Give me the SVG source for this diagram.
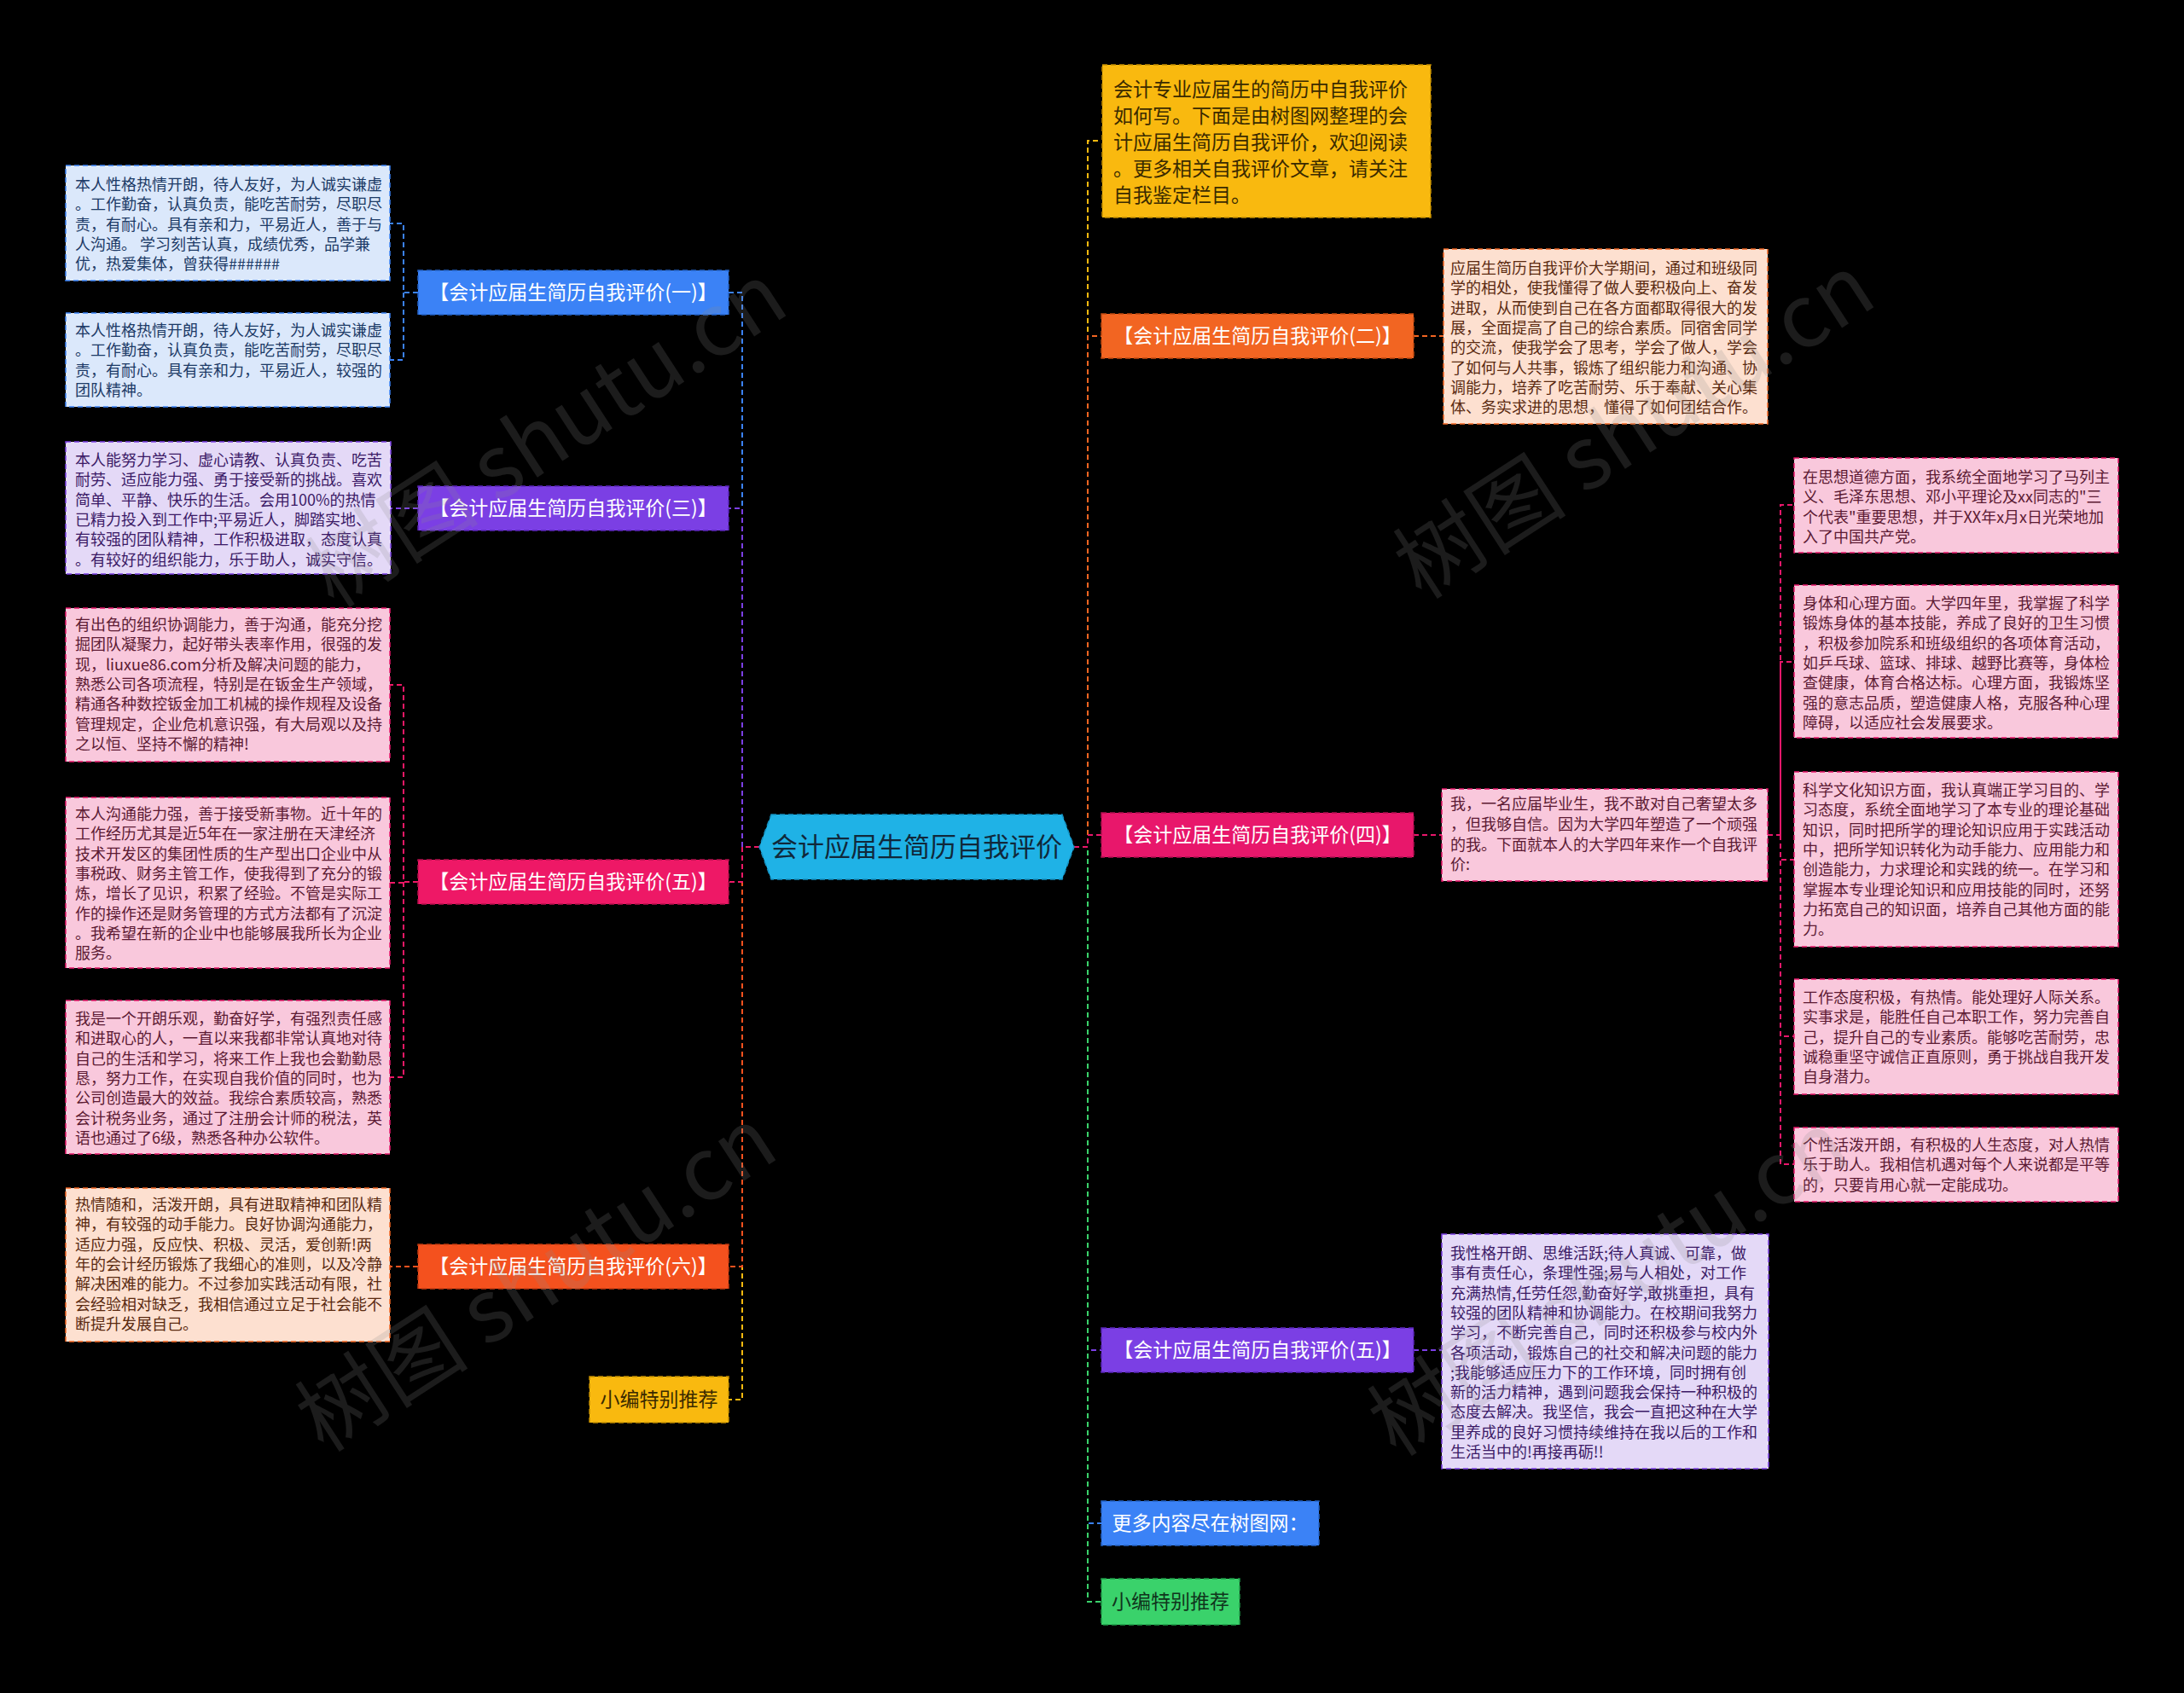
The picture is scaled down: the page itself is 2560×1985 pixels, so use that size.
<svg xmlns="http://www.w3.org/2000/svg" width="2560" height="1985" viewBox="0 0 2560 1985">
<style>
text{font-family:"Noto Sans CJK SC","Noto Sans",sans-serif;}
.wm{font-size:102px;fill:#8a8a8a;fill-opacity:0.2;}
.c{fill:none;stroke-width:2;stroke-dasharray:6 4;}
.nd{stroke-width:1.5;stroke-dasharray:6 4;}
.nt{font-size:23px;fill:#ffffff;text-anchor:middle;}
.lt{font-size:18px;}
.blue{fill:#dbe8fb;stroke:#3b82f6;}
.lav{fill:#e4d9f7;stroke:#7b3fe4;}
.pink{fill:#f9c8dc;stroke:#e8176b;}
.peach{fill:#fde0d0;stroke:#f26522;}
.tb{fill:#1c3a66;} .tl{fill:#3b1a66;} .tp{fill:#5c1a33;} .tc{fill:#5a2a10;}
</style>
<rect x="0" y="0" width="2560" height="1985" fill="#000000"/>

<g id="connectors">
<path class="c" stroke="#3b82f6" d="M890,993 H870 V343 H854"/>
<path class="c" stroke="#7b3fe4" d="M890,993 H870 V596 H854"/>
<path class="c" stroke="#f9b90f" d="M890,993 H870 V1641 H854"/>
<path class="c" stroke="#f4511e" d="M890,993 H870 V1485 H854"/>
<path class="c" stroke="#ee1866" d="M890,993 H870 V1034 H854"/>
<path class="c" stroke="#f9b90f" d="M1259,993 H1275 V165 H1291"/>
<path class="c" stroke="#f26522" d="M1259,993 H1275 V394 H1291"/>
<path class="c" stroke="#7b3fe4" d="M1259,993 H1275 V1583 H1291"/>
<path class="c" stroke="#3b82f6" d="M1259,993 H1275 V1786 H1291"/>
<path class="c" stroke="#3ad26b" d="M1259,993 H1275 V1878 H1291"/>
<path class="c" stroke="#e8176b" d="M1259,993 H1275 V979 H1291"/>
<path class="c" stroke="#3b82f6" d="M490,343 H473 V262 H457 M473,343 V422 H457"/>
<path class="c" stroke="#7b3fe4" d="M490,596 H457"/>
<path class="c" stroke="#ee1866" d="M490,1034 H473 V803 H457 M473,1034 V1263 H457 M473,1035 H457"/>
<path class="c" stroke="#f4511e" d="M490,1485 H457"/>
<path class="c" stroke="#f26522" d="M1657,394 H1692"/>
<path class="c" stroke="#e8176b" d="M1657,979 H1690"/>
<path class="c" stroke="#e8176b" d="M2072,979 H2087 V592 H2103 M2087,979 V776 H2103 M2087,979 V1008 H2103 M2087,979 V1215 H2103 M2087,979 V1365 H2103"/>
<path class="c" stroke="#7b3fe4" d="M1657,1583 H1690"/>
</g>

<g id="center">
<path d="M904,955 L1245,955 L1259,993 L1245,1031 L904,1031 L890,993 Z" fill="#1fb2e6" stroke="#1490c0" stroke-width="1.5" stroke-dasharray="6 4"/>
<text x="1074.5" y="1004" text-anchor="middle" font-size="31" fill="#10283a">会计应届生简历自我评价</text>
</g>

<g id="n1">
<rect class="nd" x="490" y="317" width="364" height="52" fill="#3b82f6" stroke="#2563c8"/>
<text class="nt" x="672" y="351">【会计应届生简历自我评价(一)】</text>
</g>
<g id="n3">
<rect class="nd" x="490" y="570" width="364" height="52" fill="#7b3fe4" stroke="#5a24b8"/>
<text class="nt" x="672" y="604">【会计应届生简历自我评价(三)】</text>
</g>
<g id="n5l">
<rect class="nd" x="490" y="1008" width="364" height="52" fill="#ee1866" stroke="#b80f4c"/>
<text class="nt" x="672" y="1042">【会计应届生简历自我评价(五)】</text>
</g>
<g id="n6">
<rect class="nd" x="490" y="1459" width="364" height="52" fill="#f4511e" stroke="#c23a10"/>
<text class="nt" x="672" y="1493">【会计应届生简历自我评价(六)】</text>
</g>
<g id="nxl">
<rect class="nd" x="691" y="1614" width="163" height="54" fill="#f9b90f" stroke="#c48e00"/>
<text class="nt" x="772.5" y="1649" style="fill:#3a2a00">小编特别推荐</text>
</g>

<g id="intro">
<rect class="nd" x="1292" y="76" width="385" height="179" fill="#f9b90f" stroke="#c48e00"/>
<text font-size="23" fill="#3a2a00">
<tspan x="1305" y="113">会计专业应届生的简历中自我评价</tspan>
<tspan x="1305" y="144">如何写。下面是由树图网整理的会</tspan>
<tspan x="1305" y="175">计应届生简历自我评价，欢迎阅读</tspan>
<tspan x="1305" y="206">。更多相关自我评价文章，请关注</tspan>
<tspan x="1305" y="237">自我鉴定栏目。</tspan>
</text>
</g>
<g id="n2">
<rect class="nd" x="1291" y="368" width="366" height="52" fill="#f26522" stroke="#c04a10"/>
<text class="nt" x="1474" y="402">【会计应届生简历自我评价(二)】</text>
</g>
<g id="n4">
<rect class="nd" x="1291" y="953" width="366" height="52" fill="#e8176b" stroke="#b00f50"/>
<text class="nt" x="1474" y="987">【会计应届生简历自我评价(四)】</text>
</g>
<g id="n5r">
<rect class="nd" x="1291" y="1557" width="366" height="52" fill="#7b3fe4" stroke="#5a24b8"/>
<text class="nt" x="1474" y="1591">【会计应届生简历自我评价(五)】</text>
</g>
<g id="nmore">
<rect class="nd" x="1291" y="1760" width="255" height="52" fill="#3b82f6" stroke="#2563c8"/>
<text class="nt" x="1418.5" y="1794">更多内容尽在树图网：</text>
</g>
<g id="nxr">
<rect class="nd" x="1291" y="1851" width="162" height="54" fill="#3ad26b" stroke="#1f9e4a"/>
<text class="nt" x="1372" y="1886" style="fill:#10351c">小编特别推荐</text>
</g>

<g id="l1a">
<rect class="nd blue" x="77" y="194" width="380" height="135"/>
<text class="lt tb"><tspan x="88" y="223">本人性格热情开朗，待人友好，为人诚实谦虚</tspan><tspan x="88" y="246.3">。工作勤奋，认真负责，能吃苦耐劳，尽职尽</tspan><tspan x="88" y="269.6">责，有耐心。具有亲和力，平易近人，善于与</tspan><tspan x="88" y="292.9">人沟通。  学习刻苦认真，成绩优秀，品学兼</tspan><tspan x="88" y="316.2">优，热爱集体，曾获得######</tspan></text>
</g>
<g id="l1b">
<rect class="nd blue" x="77" y="367" width="380" height="110"/>
<text class="lt tb"><tspan x="88" y="394">本人性格热情开朗，待人友好，为人诚实谦虚</tspan><tspan x="88" y="417.3">。工作勤奋，认真负责，能吃苦耐劳，尽职尽</tspan><tspan x="88" y="440.6">责，有耐心。具有亲和力，平易近人，较强的</tspan><tspan x="88" y="463.9">团队精神。</tspan></text>
</g>
<g id="l3">
<rect class="nd lav" x="77" y="518" width="381" height="155"/>
<text class="lt tl"><tspan x="88" y="546">本人能努力学习、虚心请教、认真负责、吃苦</tspan><tspan x="88" y="569.3">耐劳、适应能力强、勇于接受新的挑战。喜欢</tspan><tspan x="88" y="592.6">简单、平静、快乐的生活。会用100%的热情</tspan><tspan x="88" y="615.9">已精力投入到工作中;平易近人，脚踏实地、</tspan><tspan x="88" y="639.2">有较强的团队精神，工作积极进取，态度认真</tspan><tspan x="88" y="662.5">。有较好的组织能力，乐于助人，诚实守信。</tspan></text>
</g>
<g id="l5a">
<rect class="nd pink" x="77" y="713" width="380" height="180"/>
<text class="lt tp"><tspan x="88" y="739">有出色的组织协调能力，善于沟通，能充分挖</tspan><tspan x="88" y="762.3">掘团队凝聚力，起好带头表率作用，很强的发</tspan><tspan x="88" y="785.6">现，liuxue86.com分析及解决问题的能力，</tspan><tspan x="88" y="808.9">熟悉公司各项流程，特别是在钣金生产领域，</tspan><tspan x="88" y="832.2">精通各种数控钣金加工机械的操作规程及设备</tspan><tspan x="88" y="855.5">管理规定，企业危机意识强，有大局观以及持</tspan><tspan x="88" y="878.8">之以恒、坚持不懈的精神!</tspan></text>
</g>
<g id="l5b">
<rect class="nd pink" x="77" y="935" width="380" height="200"/>
<text class="lt tp"><tspan x="88" y="961">本人沟通能力强，善于接受新事物。近十年的</tspan><tspan x="88" y="984.3">工作经历尤其是近5年在一家注册在天津经济</tspan><tspan x="88" y="1007.6">技术开发区的集团性质的生产型出口企业中从</tspan><tspan x="88" y="1030.9">事税政、财务主管工作，使我得到了充分的锻</tspan><tspan x="88" y="1054.2">炼，增长了见识，积累了经验。不管是实际工</tspan><tspan x="88" y="1077.5">作的操作还是财务管理的方式方法都有了沉淀</tspan><tspan x="88" y="1100.8">。我希望在新的企业中也能够展我所长为企业</tspan><tspan x="88" y="1124.1">服务。</tspan></text>
</g>
<g id="l5c">
<rect class="nd pink" x="77" y="1173" width="380" height="180"/>
<text class="lt tp"><tspan x="88" y="1201">我是一个开朗乐观，勤奋好学，有强烈责任感</tspan><tspan x="88" y="1224.3">和进取心的人，一直以来我都非常认真地对待</tspan><tspan x="88" y="1247.6">自己的生活和学习，将来工作上我也会勤勤恳</tspan><tspan x="88" y="1270.9">恳，努力工作，在实现自我价值的同时，也为</tspan><tspan x="88" y="1294.2">公司创造最大的效益。我综合素质较高，熟悉</tspan><tspan x="88" y="1317.5">会计税务业务，通过了注册会计师的税法，英</tspan><tspan x="88" y="1340.8">语也通过了6级，熟悉各种办公软件。</tspan></text>
</g>
<g id="l6">
<rect class="nd peach" x="77" y="1393" width="380" height="180"/>
<text class="lt tc"><tspan x="88" y="1419">热情随和，活泼开朗，具有进取精神和团队精</tspan><tspan x="88" y="1442.3">神，有较强的动手能力。良好协调沟通能力，</tspan><tspan x="88" y="1465.6">适应力强，反应快、积极、灵活，爱创新!两</tspan><tspan x="88" y="1488.9">年的会计经历锻炼了我细心的准则，以及冷静</tspan><tspan x="88" y="1512.2">解决困难的能力。不过参加实践活动有限，社</tspan><tspan x="88" y="1535.5">会经验相对缺乏，我相信通过立足于社会能不</tspan><tspan x="88" y="1558.8">断提升发展自己。</tspan></text>
</g>

<g id="r2">
<rect class="nd peach" x="1692" y="292" width="380" height="205"/>
<text class="lt tc"><tspan x="1700" y="321">应届生简历自我评价大学期间，通过和班级同</tspan><tspan x="1700" y="344.3">学的相处，使我懂得了做人要积极向上、奋发</tspan><tspan x="1700" y="367.6">进取，从而使到自己在各方面都取得很大的发</tspan><tspan x="1700" y="390.9">展，全面提高了自己的综合素质。同宿舍同学</tspan><tspan x="1700" y="414.2">的交流，使我学会了思考，学会了做人，学会</tspan><tspan x="1700" y="437.5">了如何与人共事，锻炼了组织能力和沟通、协</tspan><tspan x="1700" y="460.8">调能力，培养了吃苦耐劳、乐于奉献、关心集</tspan><tspan x="1700" y="484.1">体、务实求进的思想，懂得了如何团结合作。</tspan></text>
</g>
<g id="r4">
<rect class="nd pink" x="1690" y="925" width="382" height="108"/>
<text class="lt tp"><tspan x="1700" y="949">我，一名应届毕业生，我不敢对自己奢望太多</tspan><tspan x="1700" y="972.8">，但我够自信。因为大学四年塑造了一个顽强</tspan><tspan x="1700" y="996.6">的我。下面就本人的大学四年来作一个自我评</tspan><tspan x="1700" y="1020.4">价:</tspan></text>
</g>
<g id="r4a">
<rect class="nd pink" x="2103" y="537" width="380" height="111"/>
<text class="lt tp"><tspan x="2113" y="566">在思想道德方面，我系统全面地学习了马列主</tspan><tspan x="2113" y="589.3">义、毛泽东思想、邓小平理论及xx同志的"三</tspan><tspan x="2113" y="612.6">个代表"重要思想，并于XX年x月x日光荣地加</tspan><tspan x="2113" y="635.9">入了中国共产党。</tspan></text>
</g>
<g id="r4b">
<rect class="nd pink" x="2103" y="686" width="380" height="179"/>
<text class="lt tp"><tspan x="2113" y="714">身体和心理方面。大学四年里，我掌握了科学</tspan><tspan x="2113" y="737.3">锻炼身体的基本技能，养成了良好的卫生习惯</tspan><tspan x="2113" y="760.6">，积极参加院系和班级组织的各项体育活动，</tspan><tspan x="2113" y="783.9">如乒乓球、篮球、排球、越野比赛等，身体检</tspan><tspan x="2113" y="807.2">查健康，体育合格达标。心理方面，我锻炼坚</tspan><tspan x="2113" y="830.5">强的意志品质，塑造健康人格，克服各种心理</tspan><tspan x="2113" y="853.8">障碍，以适应社会发展要求。</tspan></text>
</g>
<g id="r4c">
<rect class="nd pink" x="2103" y="905" width="380" height="205"/>
<text class="lt tp"><tspan x="2113" y="933">科学文化知识方面，我认真端正学习目的、学</tspan><tspan x="2113" y="956.3">习态度，系统全面地学习了本专业的理论基础</tspan><tspan x="2113" y="979.6">知识，同时把所学的理论知识应用于实践活动</tspan><tspan x="2113" y="1002.9">中，把所学知识转化为动手能力、应用能力和</tspan><tspan x="2113" y="1026.2">创造能力，力求理论和实践的统一。在学习和</tspan><tspan x="2113" y="1049.5">掌握本专业理论知识和应用技能的同时，还努</tspan><tspan x="2113" y="1072.8">力拓宽自己的知识面，培养自己其他方面的能</tspan><tspan x="2113" y="1096.1">力。</tspan></text>
</g>
<g id="r4d">
<rect class="nd pink" x="2103" y="1148" width="380" height="135"/>
<text class="lt tp"><tspan x="2113" y="1176">工作态度积极，有热情。能处理好人际关系。</tspan><tspan x="2113" y="1199.3">实事求是，能胜任自己本职工作，努力完善自</tspan><tspan x="2113" y="1222.6">己，提升自己的专业素质。能够吃苦耐劳，忠</tspan><tspan x="2113" y="1245.9">诚稳重坚守诚信正直原则，勇于挑战自我开发</tspan><tspan x="2113" y="1269.2">自身潜力。</tspan></text>
</g>
<g id="r4e">
<rect class="nd pink" x="2103" y="1322" width="380" height="87"/>
<text class="lt tp"><tspan x="2113" y="1349">个性活泼开朗，有积极的人生态度，对人热情</tspan><tspan x="2113" y="1372.3">乐于助人。我相信机遇对每个人来说都是平等</tspan><tspan x="2113" y="1395.6">的，只要肯用心就一定能成功。</tspan></text>
</g>
<g id="r5">
<rect class="nd lav" x="1690" y="1447" width="383" height="275"/>
<text class="lt tl"><tspan x="1700" y="1476">我性格开朗、思维活跃;待人真诚、可靠，做</tspan><tspan x="1700" y="1499.3">事有责任心，条理性强;易与人相处，对工作</tspan><tspan x="1700" y="1522.6">充满热情,任劳任怨,勤奋好学,敢挑重担，具有</tspan><tspan x="1700" y="1545.9">较强的团队精神和协调能力。在校期间我努力</tspan><tspan x="1700" y="1569.2">学习，不断完善自己，同时还积极参与校内外</tspan><tspan x="1700" y="1592.5">各项活动，锻炼自己的社交和解决问题的能力</tspan><tspan x="1700" y="1615.8">;我能够适应压力下的工作环境，同时拥有创</tspan><tspan x="1700" y="1639.1">新的活力精神，遇到问题我会保持一种积极的</tspan><tspan x="1700" y="1662.4">态度去解决。我坚信，我会一直把这种在大学</tspan><tspan x="1700" y="1685.7">里养成的良好习惯持续维持在我以后的工作和</tspan><tspan x="1700" y="1709">生活当中的!再接再砺!!</tspan></text>
</g>

<g id="watermarks">
<text class="wm" transform="translate(660,540) rotate(-33)" text-anchor="middle">树图 shutu.cn</text>
<text class="wm" transform="translate(1935,530) rotate(-33)" text-anchor="middle">树图 shutu.cn</text>
<text class="wm" transform="translate(648,1530) rotate(-33)" text-anchor="middle">树图 shutu.cn</text>
<text class="wm" transform="translate(1905,1535) rotate(-33)" text-anchor="middle">树图 shutu.cn</text>
</g>
</svg>
